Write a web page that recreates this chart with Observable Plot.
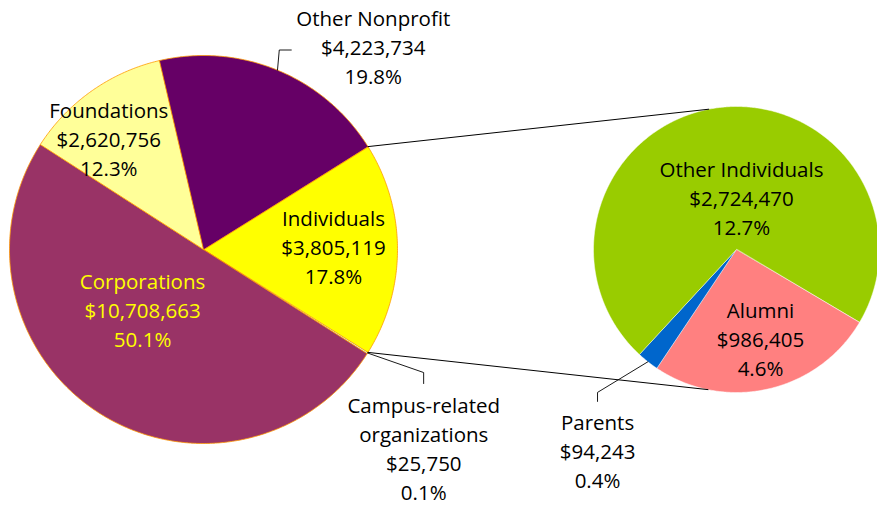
<!DOCTYPE html>
<html><head><meta charset="utf-8">
<script src="https://cdn.jsdelivr.net/npm/d3@7"></script>
<script src="https://cdn.jsdelivr.net/npm/@observablehq/plot@0.6"></script>
<style>html,body{margin:0;padding:0;background:#fff;} svg{display:block}</style>
</head><body><div id="chart"></div>
<script>
// ---- data ----
const mainCategories = ["Individuals", "Campus-related organizations", "Corporations", "Foundations", "Other Nonprofit"];
const mainValues = [3805119, 25750, 10708663, 2620756, 4223734];
const subCategories = ["Alumni", "Parents", "Other Individuals"];
const subValues = [986405, 94243, 2724470];

// ---- styles / layout ----
const mainColors = ["#FFFF00", "#CCFFFF", "#993366", "#FFFF99", "#660066"];
const subColors = ["#FF8080", "#0066CC", "#99CC00"];
const mainTextColors = ["#000", "#000", "#FFFF00", "#000", "#000"];
const subTextColors = ["#000", "#000", "#000"];
const W = 877, H = 506;
const pie1 = {cx: 203, cy: 249, r: 194};
const pie2 = {cx: 736, cy: 249, r: 143};
const pie2Start = 120.5; // degrees, clockwise from 12 o'clock
const mainLabelLayout = [[89.6, 0.67], [132.3, 1.535], [224.5, 0.448], [319.2, 0.747], [40.2, 1.356]];
const subLabelLayout = [[165.2, 0.658], [214.4, 1.72], [5.7, 0.351]];
const mainLeaders = {1: {elbow: [119.2, 1.30], end: [0, 11]}, 4: {elbow: [20.8, 1.10], end: [12, 0]}};
const subLeaders = {1: {elbow: [224.2, 1.394], end: [0, 9]}};
const connectorAngles2 = [-11.2, 191.5];

const rad = Math.PI / 180;
const polar = (p, aDeg, k) => ({x: p.cx + k * p.r * Math.sin(aDeg * rad), y: p.cy - k * p.r * Math.cos(aDeg * rad)});

const total = d3.sum(mainValues);
const fmtMoney = d3.format("$,");
const fmtPct = d3.format(".1%");

// main pie arcs: Individuals centred on 3 o'clock
const s1 = 90 - (mainValues[0] / total) * 180;
const arcs1 = d3.pie().sort(null).startAngle(s1 * rad).endAngle((s1 + 360) * rad)(mainValues);
const arcs2 = d3.pie().sort(null).startAngle(pie2Start * rad).endAngle((pie2Start + 360) * rad)(subValues);

function slicePoints(p, a) {
  const a0 = a.startAngle / rad, a1 = a.endAngle / rad;
  const n = Math.max(2, Math.ceil((a1 - a0) / 0.5));
  const pts = [{x: p.cx, y: p.cy}];
  for (let i = 0; i <= n; i++) pts.push(polar(p, a0 + (a1 - a0) * i / n, 1));
  return pts;
}

const marks = [];
arcs1.forEach((a, i) => marks.push(Plot.line(slicePoints(pie1, a), {
  x: "x", y: "y", curve: "linear-closed", fill: mainColors[i], stroke: "#FF9900", strokeWidth: 0.8, strokeLinejoin: "round"
})));
arcs2.forEach((a, i) => marks.push(Plot.line(slicePoints(pie2, a), {
  x: "x", y: "y", curve: "linear-closed", fill: subColors[i], stroke: "#ffffff", strokeWidth: 0.5, strokeLinejoin: "round"
})));

// connector lines between the pies (edges of the Individuals slice)
const ind = arcs1[0];
const connectors = [
  [polar(pie1, ind.startAngle / rad, 1), polar(pie2, connectorAngles2[0], 1)],
  [polar(pie1, ind.endAngle / rad, 1), polar(pie2, connectorAngles2[1], 1)]
];
connectors.forEach(c => marks.push(Plot.line(c, {x: "x", y: "y", stroke: "#000", strokeWidth: 1})));

// leader lines
function leader(p, a, L) {
  const mid = (a.startAngle + a.endAngle) / 2 / rad;
  const p0 = polar(p, mid, 1);
  const p1 = polar(p, L.elbow[0], L.elbow[1]);
  const p2 = {x: p1.x + L.end[0], y: p1.y + L.end[1]};
  return [p0, p1, p2];
}
Object.entries(mainLeaders).forEach(([i, L]) => marks.push(Plot.line(leader(pie1, arcs1[+i], L), {x: "x", y: "y", stroke: "#000", strokeWidth: 0.9})));
Object.entries(subLeaders).forEach(([i, L]) => marks.push(Plot.line(leader(pie2, arcs2[+i], L), {x: "x", y: "y", stroke: "#000", strokeWidth: 0.9})));

// labels
const labelName = n => n.replace(" organizations", "\norganizations");
const labels = [];
mainCategories.forEach((c, i) => {
  const pos = polar(pie1, mainLabelLayout[i][0], mainLabelLayout[i][1]);
  labels.push({...pos, color: mainTextColors[i], text: `${labelName(c)}\n${fmtMoney(mainValues[i])}\n${fmtPct(mainValues[i] / total)}`});
});
subCategories.forEach((c, i) => {
  const pos = polar(pie2, subLabelLayout[i][0], subLabelLayout[i][1]);
  labels.push({...pos, color: subTextColors[i], text: `${c}\n${fmtMoney(subValues[i])}\n${fmtPct(subValues[i] / total)}`});
});
marks.push(Plot.text(labels, {
  x: "x", y: "y", text: "text", fill: d => d.color, fontSize: 20.5, lineHeight: 1.415,
  fontFamily: "Open Sans", textAnchor: "middle", dy: -2.5
}));

const chart = Plot.plot({
  width: W, height: H, margin: 0,
  x: {domain: [0, W], range: [0, W], axis: null},
  y: {domain: [0, H], range: [0, H], axis: null},
  color: {type: "identity"},
  style: {background: "#fff"},
  marks
});
document.getElementById("chart").appendChild(chart);
</script>
</body></html>
